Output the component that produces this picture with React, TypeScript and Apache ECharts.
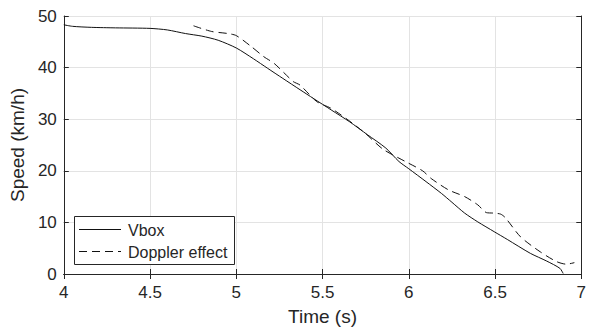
import React, { useEffect, useRef } from "react";
import * as echarts from "echarts";

const vboxTime = [4.0, 4.05, 4.16, 4.3, 4.5, 4.6, 4.705, 4.8, 4.895, 5.0, 5.1, 5.18, 5.27, 5.37, 5.448, 5.55, 5.657, 5.76, 5.867, 5.943, 6.0, 6.1, 6.19, 6.25, 6.324, 6.4, 6.495, 6.571, 6.705, 6.8, 6.876, 6.895];
const vboxSpeed = [48.3, 48.0, 47.8, 47.7, 47.6, 47.3, 46.6, 46.1, 45.3, 43.8, 41.7, 39.9, 37.9, 35.7, 34.0, 31.8, 29.5, 27.0, 24.4, 21.8, 20.4, 17.9, 15.6, 13.9, 11.8, 10.1, 8.2, 6.7, 4.0, 2.5, 1.1, 0.1];

const dopTime = [4.752, 4.857, 4.952, 5.0, 5.086, 5.16, 5.22, 5.33, 5.37, 5.467, 5.55, 5.65, 5.75, 5.85, 5.98, 6.08, 6.13, 6.23, 6.324, 6.4, 6.45, 6.495, 6.533, 6.56, 6.648, 6.762, 6.857, 6.914, 6.96];
const dopSpeed = [48.1, 47.0, 46.6, 46.2, 44.1, 42.1, 40.8, 37.3, 36.6, 33.4, 32.1, 29.8, 27.2, 24.2, 21.8, 20.0, 18.5, 16.3, 15.0, 13.4, 11.9, 11.8, 11.6, 10.9, 7.2, 4.3, 2.4, 1.9, 2.2];

const seriesNames = ["Vbox", "Doppler effect"];
const xName = "Time (s)";
const yName = "Speed (km/h)";

const FONT = "'Liberation Sans', Arial, sans-serif";
const INK = "#262626";

export default function App() {
  const ref = useRef<HTMLDivElement>(null);
  useEffect(() => {
    if (!ref.current) return;
    const chart = echarts.init(ref.current, null, { renderer: "svg" });
    const vbox = vboxTime.map((t, i) => [t, vboxSpeed[i]]);
    const dop = dopTime.map((t, i) => [t, dopSpeed[i]]);
    const axisLine = { show: true, lineStyle: { color: INK, width: 1 } };
    chart.setOption({
      animation: false,
      backgroundColor: "#ffffff",
      grid: { left: 60, right: 4, top: 16, bottom: 57 },
      xAxis: [
        {
          type: "value",
          min: 4,
          max: 7,
          interval: 0.5,
          name: xName,
          nameLocation: "middle",
          nameGap: 33,
          nameTextStyle: { fontFamily: FONT, fontSize: 19, color: INK },
          axisLine,
          axisTick: { show: true, inside: true, length: 5, lineStyle: { color: INK } },
          axisLabel: { fontFamily: FONT, fontSize: 17, color: INK, margin: 10 },
          splitLine: { show: true, lineStyle: { color: "#e3e3e3", width: 1 } },
        },
        {
          type: "value",
          position: "top",
          min: 4,
          max: 7,
          interval: 0.5,
          axisLine,
          axisTick: { show: true, inside: true, length: 5, lineStyle: { color: INK } },
          axisLabel: { show: false },
          splitLine: { show: false },
        },
      ],
      yAxis: [
        {
          type: "value",
          min: 0,
          max: 50,
          interval: 10,
          name: yName,
          nameLocation: "middle",
          nameGap: 34,
          nameTextStyle: { fontFamily: FONT, fontSize: 19, color: INK },
          axisLine,
          axisTick: { show: true, inside: true, length: 5, lineStyle: { color: INK } },
          axisLabel: { fontFamily: FONT, fontSize: 17, color: INK, margin: 7 },
          splitLine: { show: true, lineStyle: { color: "#e3e3e3", width: 1 } },
        },
        {
          type: "value",
          position: "right",
          min: 0,
          max: 50,
          interval: 10,
          axisLine,
          axisTick: { show: true, inside: true, length: 5, lineStyle: { color: INK } },
          axisLabel: { show: false },
          splitLine: { show: false },
        },
      ],
      series: [
        {
          name: seriesNames[0],
          type: "line",
          data: vbox,
          smooth: 0.25,
          showSymbol: false,
          lineStyle: { color: "#111111", width: 1 },
        },
        {
          name: seriesNames[1],
          type: "line",
          data: dop,
          smooth: 0.25,
          showSymbol: false,
          lineStyle: { color: "#111111", width: 1, type: [8, 5] },
        },
      ],
      graphic: [
        {
          type: "rect",
          shape: { x: 74.5, y: 216.5, width: 160, height: 48 },
          style: { fill: "#ffffff", stroke: INK, lineWidth: 1 },
          z: 100,
        },
        {
          type: "line",
          shape: { x1: 79, y1: 229.5, x2: 121, y2: 229.5 },
          style: { stroke: "#111111", lineWidth: 1 },
          z: 101,
        },
        {
          type: "text",
          x: 128,
          y: 230,
          style: { text: seriesNames[0], fontFamily: FONT, fontSize: 16, fill: INK, verticalAlign: "middle" },
          z: 101,
        },
        {
          type: "line",
          shape: { x1: 79, y1: 251.5, x2: 121, y2: 251.5 },
          style: { stroke: "#111111", lineWidth: 1, lineDash: [8, 5] },
          z: 101,
        },
        {
          type: "text",
          x: 128,
          y: 252,
          style: { text: seriesNames[1], fontFamily: FONT, fontSize: 16, fill: INK, verticalAlign: "middle" },
          z: 101,
        },
      ],
    });
    return () => chart.dispose();
  }, []);
  return <div ref={ref} style={{ width: 589, height: 331, position: "fixed", left: 0, top: 0 }} />;
}
